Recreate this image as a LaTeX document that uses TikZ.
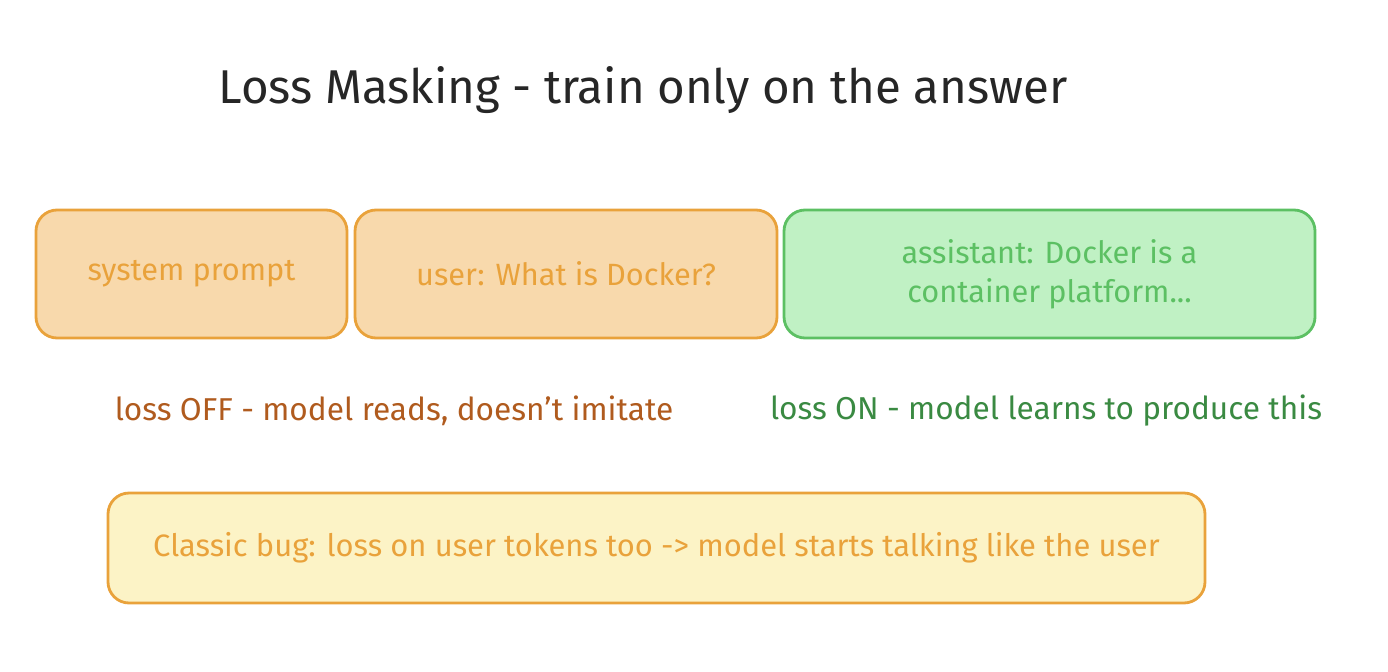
\documentclass[tikz,border=0pt]{standalone}
\usepackage{fontspec}
\setmainfont{Fira Sans}
\usetikzlibrary{positioning}
\definecolor{orangeline}{HTML}{E9A23B}
\definecolor{orangefill}{HTML}{F8D9AC}
\definecolor{greenline}{HTML}{5CC063}
\definecolor{greenfill}{HTML}{C0F1C4}
\definecolor{yellowfill}{HTML}{FCF3C6}
\definecolor{offtext}{HTML}{B05B1E}
\definecolor{ontext}{HTML}{3A8A42}

\begin{document}
\begin{tikzpicture}[x=0.02cm,y=-0.02cm,
    box/.style={draw, line width=1.6pt, rounded corners=12pt, align=center,
        font=\fontsize{17.5}{22}\selectfont, inner sep=0pt},
    masked/.style={box, draw=orangeline, fill=orangefill, text=orangeline},
    learned/.style={box, draw=greenline, fill=greenfill, text=greenline},
    note/.style={font=\fontsize{18}{22}\selectfont}]
    \useasboundingbox (0,0) rectangle (1388,672);

    \node[font=\fontsize{27}{32}\selectfont, text=black!85] (title) at (643,90)
        {Loss Masking - train only on the answer};

    % the three segments of one training sample
    \node[masked, minimum width=311*0.02cm, minimum height=128*0.02cm]
        (system) at (191.5,274) {system prompt};
    \node[masked, minimum width=422*0.02cm, minimum height=128*0.02cm]
        (user) at (566,274) {user: What is Docker?};
    \node[learned, minimum width=531*0.02cm, minimum height=128*0.02cm]
        (assistant) at (1049.5,274) {assistant: Docker is a\\container platform...};

    \node[note, text=offtext] (off) at (394,411) {loss OFF - model reads, doesn't imitate};
    \node[note, text=ontext] (on) at (1046,411) {loss ON - model learns to produce this};

    % the usual mistake
    \node[box, draw=orangeline, fill=yellowfill, text=orangeline,
        font=\fontsize{17.6}{22}\selectfont,
        minimum width=1097*0.02cm, minimum height=110*0.02cm]
        (bug) at (656.5,548) {Classic bug: loss on user tokens too -> model starts talking like the user};
\end{tikzpicture}
\end{document}
